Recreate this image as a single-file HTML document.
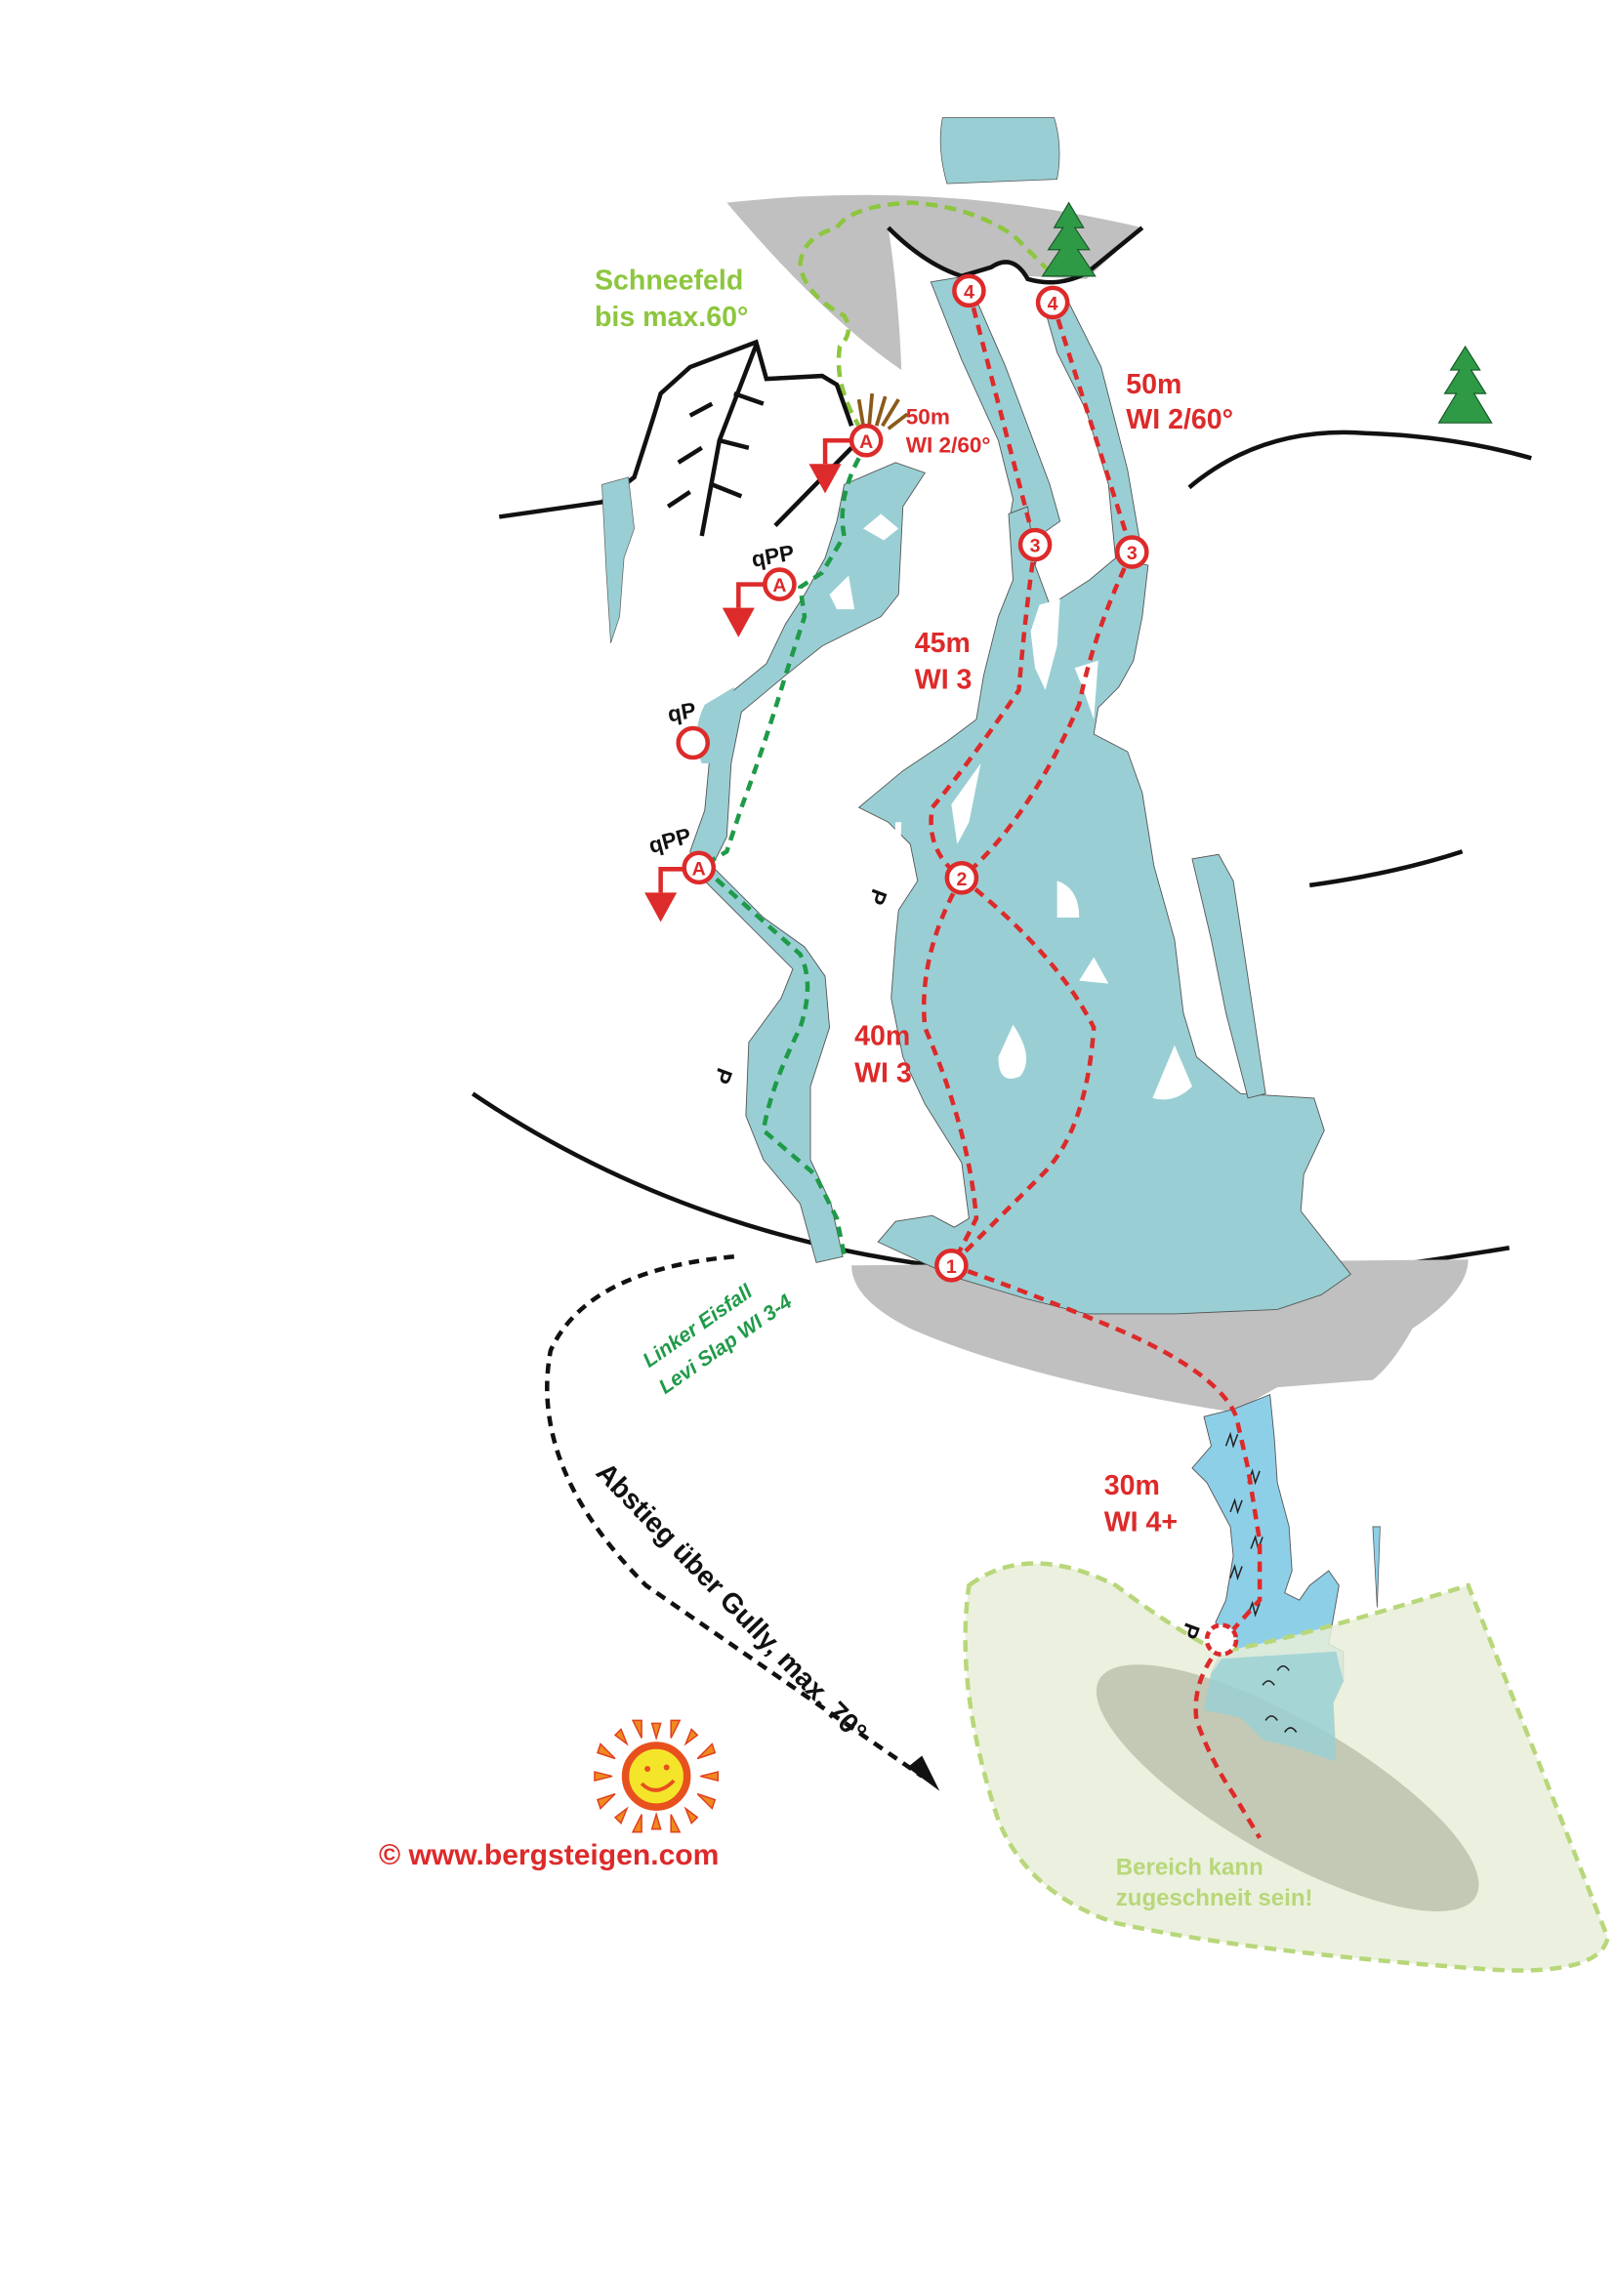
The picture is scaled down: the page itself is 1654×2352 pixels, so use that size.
<!DOCTYPE html>
<html><head><meta charset="utf-8"><style>
html,body{margin:0;padding:0;background:#fff;}
svg{display:block;}
text{font-family:"Liberation Sans",sans-serif;font-weight:bold;}
</style></head><body>
<svg width="1654" height="2352" viewBox="0 0 1100 1564" xmlns="http://www.w3.org/2000/svg">
<!-- top ice block -->
<path d="M642,80 L718,80 Q724,100 720,122 L645,125 Q638,100 642,80Z" fill="#99cfd4" stroke="#555" stroke-width="0.5"/>
<!-- gray top -->
<path d="M495,138 Q640,122 778,155 L740,190 L700,188 Q690,176 675,182 L655,188 Q630,180 605,155 Q612,200 614,252 Q560,215 495,138Z" fill="#c0c0c0"/>
<path d="M605,155 Q630,180 655,188 L675,182 Q690,172 700,190 Q720,196 740,186 L778,155" fill="none" stroke="#111" stroke-width="3"/>
<!-- green snow route -->
<path d="M715,185 L690,160 Q660,140 620,138 Q580,140 570,155 Q545,162 545,182 Q550,202 575,215 Q582,226 572,236 Q568,262 585,290" fill="none" stroke="#8dc63f" stroke-width="3" stroke-dasharray="8,5"/>
<text x="405" y="197" font-size="19" fill="#8dc63f">Schneefeld</text>
<text x="405" y="222" font-size="19" fill="#8dc63f">bis max.60°</text>
<!-- ridge left -->
<path d="M340,352 L410,342 L432,325 Q445,285 450,268 L470,250 L515,233 L522,258 L560,256 L570,262 L580,290" fill="none" stroke="#111" stroke-width="3"/>
<path d="M515,235 L490,300 L478,365 M500,268 L520,275 M485,275 L470,283 M490,300 L510,305 M478,305 L462,315 M485,330 L505,338 M470,335 L455,345" fill="none" stroke="#111" stroke-width="3"/>
<path d="M528,358 L580,305" stroke="#111" stroke-width="3"/>
<path d="M410,330 L428,325 L432,360 L425,380 L422,420 L416,438 L413,390 Z" fill="#99cfd4" stroke="#666" stroke-width="0.5"/>
<!-- hills -->
<path d="M322,745 Q470,845 660,865 L920,866 Q980,858 1028,850" fill="none" stroke="#111" stroke-width="3"/>
<path d="M810,332 Q860,290 930,295 Q990,297 1043,312" fill="none" stroke="#111" stroke-width="3"/>
<path d="M892,603 Q950,595 996,580" fill="none" stroke="#111" stroke-width="3"/>
<!-- trees -->
<g fill="#2e9a46" stroke="#1a5a2a" stroke-width="0.8">
<path d="M728,138 L718,155 L724,155 L714,170 L722,170 L710,188 L746,188 L734,170 L742,170 L732,155 L738,155Z"/>
<path d="M998,236 L988,252 L994,252 L984,268 L992,268 L980,288 L1016,288 L1004,268 L1012,268 L1002,252 L1008,252Z"/>
</g>
<!-- gray bottom -->
<path d="M580,862 L1000,858 Q1000,880 962,905 Q948,930 935,940 L870,945 L840,962 Q700,940 620,905 Q580,885 580,862Z" fill="#c0c0c0"/>
<!-- left ice Levi Slap -->
<path d="M575,330 L610,315 L630,322 L615,345 L612,405 L600,420 L560,440 L535,460 L505,485 L498,520 L495,570 L485,590 L520,625 L548,645 L562,665 L565,700 L552,740 L552,790 L566,820 L574,856 L556,860 L545,820 L520,790 L508,760 L510,710 L532,680 L540,660 L480,600 L470,580 L480,552 L483,520 L478,500 L500,470 L522,452 L535,425 L548,405 L562,380 L570,355Z" fill="#99cfd4" stroke="#555" stroke-width="0.6"/>
<path d="M480,480 L500,468 L496,520 L478,520 Q470,500 480,480Z" fill="#99cfd4"/>
<!-- upper strips -->
<path d="M634,192 L658,188 L685,250 L715,330 L722,355 L712,362 L705,385 L692,390 L688,352 L690,340 L680,300 L655,245Z" fill="#99cfd4" stroke="#555" stroke-width="0.6"/>
<path d="M710,205 L725,200 L750,250 L768,320 L778,378 L760,382 L755,330 L740,280 L720,240Z" fill="#99cfd4" stroke="#555" stroke-width="0.6"/>
<!-- main ice -->
<path d="M687,350 L700,345 L705,385 L715,412 L722,408 L742,395 L760,380 L782,385 L778,420 L772,450 L762,468 L748,482 L745,500 L768,512 L778,540 L786,590 L800,640 L806,690 L815,720 L845,745 L895,748 L902,770 L888,800 L886,825 L920,868 L900,882 L870,892 L800,895 L740,895 L700,885 L650,870 L598,846 L610,832 L635,828 L650,836 L660,830 L655,792 L630,752 L615,720 L607,680 L610,640 L612,620 L625,600 L620,575 L605,560 L585,550 L615,525 L645,505 L665,490 L670,460 L680,420 L690,395Z" fill="#99cfd4" stroke="#555" stroke-width="0.6"/>
<path d="M812,585 L830,582 L840,600 L862,745 L850,748 L835,690 L825,640Z" fill="#99cfd4" stroke="#555" stroke-width="0.6"/>
<!-- icicle fringes (white) -->
<g fill="#fff">
<path d="M708,412 L722,408 L720,440 L712,470 L705,455 L702,430Z"/>
<path d="M732,455 L748,450 L745,490 L738,470Z"/>
<path d="M648,548 L668,520 L660,560 L652,575Z"/>
<path d="M720,600 Q735,605 735,625 L720,625Z"/>
<path d="M735,668 L745,652 L755,670Z"/>
<path d="M680,720 L690,698 Q705,720 695,733 Q680,740 680,720Z"/>
<path d="M785,748 L800,712 L812,740 Q800,752 785,748Z"/>
<path d="M610,560 L614,560 L613,590 L608,590Z"/>
<path d="M588,360 L600,350 L612,360 L602,368Z"/>
<path d="M565,405 L578,392 L582,415 L570,415Z"/>
</g>
<!-- lower waterfall -->
<path d="M820,965 L840,960 L865,950 L868,980 L870,1010 L878,1040 L880,1070 L875,1085 L885,1090 L892,1080 L905,1070 L912,1080 L905,1120 L915,1125 L915,1145 L908,1160 L910,1200 L880,1190 L860,1185 L845,1170 L820,1165 L825,1140 L832,1125 L828,1105 L835,1090 L840,1060 L838,1040 L830,1025 L822,1010 L812,1000 L825,985Z" fill="#8ecfe8" stroke="#555" stroke-width="0.6"/>
<path d="M935,1040 L940,1040 L938,1095Z" fill="#8ecfe8" stroke="#555" stroke-width="0.5"/>
<!-- snow area -->
<path d="M660,1080 Q700,1050 760,1080 Q800,1110 830,1125 Q870,1120 1000,1080 Q1060,1230 1095,1320 Q1090,1345 1020,1342 Q850,1330 760,1310 Q700,1290 680,1240 Q650,1150 660,1080Z" fill="#e8efd8" fill-opacity="0.85" stroke="#b8d77a" stroke-width="3" stroke-dasharray="8,5"/>
<ellipse cx="877" cy="1218" rx="148" ry="46" transform="rotate(30 877 1218)" fill="#c3c9b5"/>
<path d="M832,1130 L910,1125 L915,1145 L908,1160 L910,1200 L880,1190 L860,1185 L845,1170 L820,1165 L825,1140Z" fill="#99cfd4" fill-opacity="0.8"/>
<g fill="none" stroke="#222" stroke-width="1">
<path d="M835,985 l3,-8 l2,8 l3,-8 M850,1010 l3,-8 l2,8 l3,-8 M838,1030 l3,-8 l2,8 l3,-8 M852,1055 l3,-8 l2,8 l3,-8 M838,1075 l3,-8 l2,8 l3,-8 M850,1100 l3,-8 l2,8 l3,-8 M860,1148 q4,-6 8,0 M870,1138 q4,-6 8,0 M862,1172 q4,-6 8,0 M875,1180 q4,-6 8,0"/>
</g>
<!-- descent arrow -->
<path d="M500,856 Q400,865 375,920 Q360,1000 440,1080 L628,1210" fill="none" stroke="#111" stroke-width="3" stroke-dasharray="7,5"/>
<path d="M618,1204 L640,1220 L628,1196Z" fill="#111"/>
<text transform="translate(405,1004) rotate(46)" font-size="19" fill="#111">Abstieg über Gully, max. 70°</text>
<text transform="translate(442,932) rotate(-35)" font-size="14" fill="#1f9a48" font-style="italic">Linker Eisfall</text>
<text transform="translate(453,950) rotate(-35)" font-size="14" fill="#1f9a48" font-style="italic">Levi Slap WI 3-4</text>
<!-- routes -->
<g fill="none" stroke="#dd2a2a" stroke-width="3" stroke-dasharray="7,5">
<path d="M660,198 L705,371"/>
<path d="M717,206 L771,376"/>
<path d="M705,371 Q698,420 694,470 Q660,520 635,550 Q630,580 655,598"/>
<path d="M771,376 Q745,430 735,480 Q700,560 655,598"/>
<path d="M655,598 Q625,650 630,700 Q660,770 665,830 Q655,850 648,862"/>
<path d="M655,598 Q720,650 745,700 Q740,770 710,800 Q670,840 648,862"/>
<path d="M648,862 Q700,880 760,905 Q830,935 842,965 L850,1000 L858,1050 L858,1090 L840,1110"/>
<path d="M825,1130 Q812,1150 815,1172 Q825,1200 840,1222 L858,1252"/>
</g>
<g fill="none" stroke="#1f9a48" stroke-width="3" stroke-dasharray="7,5">
<path d="M585,312 Q570,340 575,365 L560,390 L545,400 L548,420 L535,460 Q520,510 505,550 L495,580 L478,590 L545,650 Q555,670 545,700 Q525,740 520,770 L555,800 L570,830 L575,855"/>
</g>
<!-- tuft -->
<path d="M588,290 L585,272 M592,290 L594,268 M597,290 L603,270 M601,290 L612,272 M605,292 L618,282" stroke="#8b5a1a" stroke-width="2.5"/>
<!-- rappel arrows -->
<g fill="#dd2a2a" stroke="#dd2a2a">
<path d="M580,300 L562,300 L562,316" fill="none" stroke-width="3"/><path d="M551,316 L573,316 L562,336Z" stroke="none"/>
<path d="M521,398 L503,398 L503,414" fill="none" stroke-width="3"/><path d="M492,414 L514,414 L503,434Z" stroke="none"/>
<path d="M466,592 L450,592 L450,608" fill="none" stroke-width="3"/><path d="M439,608 L461,608 L450,628Z" stroke="none"/>
</g>
<!-- circles -->
<g fill="#fff" stroke="#dd2a2a" stroke-width="3">
<circle cx="590" cy="300" r="10"/><circle cx="531" cy="398" r="10"/><circle cx="472" cy="506" r="10"/><circle cx="476" cy="591" r="10"/>
<circle cx="660" cy="198" r="10"/><circle cx="717" cy="206" r="10"/><circle cx="705" cy="371" r="10"/><circle cx="771" cy="376" r="10"/>
<circle cx="655" cy="598" r="10"/><circle cx="648" cy="862" r="10"/>
</g>
<circle cx="832" cy="1117" r="10" fill="#fff" stroke="#dd2a2a" stroke-width="3" stroke-dasharray="5,3"/>
<g font-size="13" fill="#dd2a2a" text-anchor="middle">
<text x="590" y="305">A</text><text x="531" y="403">A</text><text x="476" y="596">A</text>
<text x="660" y="203">4</text><text x="717" y="211">4</text><text x="705" y="376">3</text><text x="771" y="381">3</text>
<text x="655" y="603">2</text><text x="648" y="867">1</text>
</g>
<!-- bolts -->
<g font-size="15" fill="#111" font-weight="normal">
<text x="512" y="384" transform="rotate(-10 525 380)">qPP</text>
<text x="455" y="490" transform="rotate(-10 465 486)">qP</text>
<text x="442" y="578" transform="rotate(-15 455 574)">qPP</text>
<text x="590" y="612" transform="rotate(110 595 610)">P</text>
<text x="486" y="733" transform="rotate(110 490 731)">P</text>
<text x="803" y="1112" transform="rotate(110 808 1110)">P</text>
</g>
<!-- labels -->
<g fill="#dd2a2a">
<text x="617" y="289" font-size="15">50m</text><text x="617" y="308" font-size="15">WI 2/60°</text>
<text x="767" y="268" font-size="19">50m</text><text x="767" y="292" font-size="19">WI 2/60°</text>
<text x="623" y="444" font-size="19">45m</text><text x="623" y="469" font-size="19">WI 3</text>
<text x="582" y="712" font-size="19">40m</text><text x="582" y="737" font-size="19">WI 3</text>
<text x="752" y="1018" font-size="19">30m</text><text x="752" y="1043" font-size="19">WI 4+</text>
<text x="258" y="1270" font-size="20">©  www.bergsteigen.com</text>
</g>
<text x="760" y="1277" font-size="16" fill="#b8d77a">Bereich kann</text>
<text x="760" y="1298" font-size="16" fill="#b8d77a">zugeschneit sein!</text>
<!-- sun -->
<g transform="translate(447,1210)">
<g fill="#f08a1e" stroke="#e04020" stroke-width="1">
<path d="M-3,-36 L3,-36 L0,-26Z"/><path d="M-3,36 L3,36 L0,26Z"/><path d="M-42,-3 L-42,3 L-30,0Z"/><path d="M42,-3 L42,3 L30,0Z"/>
<path d="M-28,-28 L-24,-32 L-20,-22Z"/><path d="M28,-28 L24,-32 L20,-22Z"/><path d="M-28,28 L-24,32 L-20,22Z"/><path d="M28,28 L24,32 L20,22Z"/>
<path d="M-40,-16 L-38,-22 L-28,-12Z"/><path d="M40,-16 L38,-22 L28,-12Z"/><path d="M-40,16 L-38,22 L-28,12Z"/><path d="M40,16 L38,22 L28,12Z"/>
<path d="M-16,-38 L-10,-38 L-10,-26Z"/><path d="M16,-38 L10,-38 L10,-26Z"/><path d="M-16,38 L-10,38 L-10,26Z"/><path d="M16,38 L10,38 L10,26Z"/>
</g>
<circle r="21" fill="#f5e52a" stroke="#e8501e" stroke-width="5"/>
<circle cx="-6" cy="-5" r="2" fill="#e8501e"/><circle cx="7" cy="-6" r="2" fill="#e8501e"/>
<path d="M-10,5 Q0,15 12,3" fill="none" stroke="#e8501e" stroke-width="2.5"/>
</g>
</svg>
</body></html>
